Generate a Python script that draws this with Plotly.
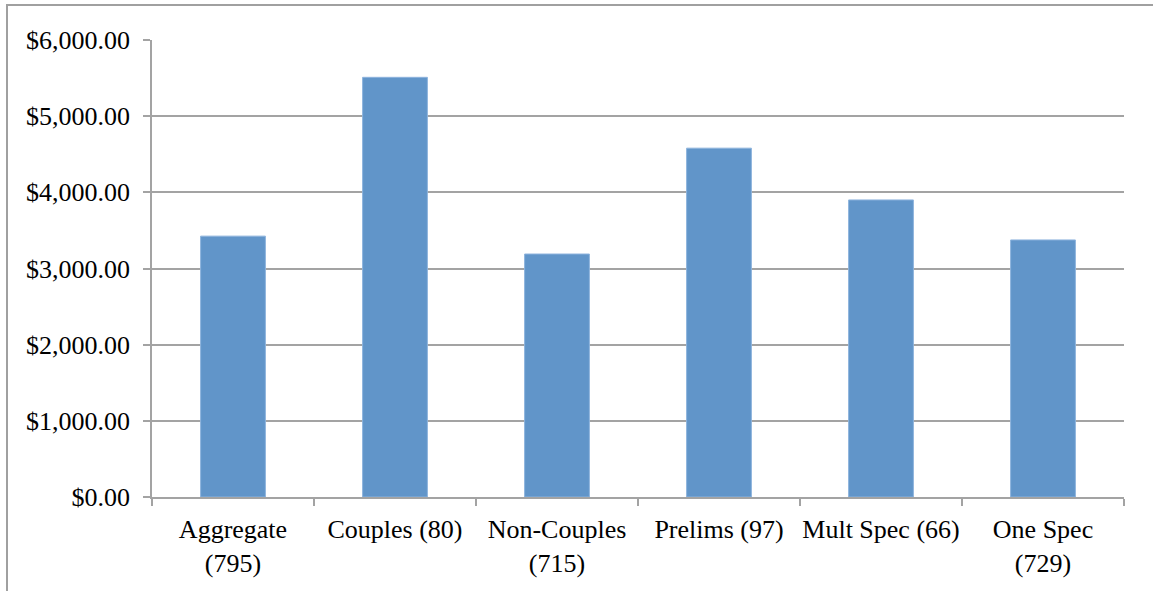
import plotly.graph_objects as go

categories = ["Aggregate<br>(795)", "Couples (80)", "Non-Couples<br>(715)",
              "Prelims (97)", "Mult Spec (66)", "One Spec<br>(729)"]
values = [3425, 5510, 3190, 4580, 3900, 3375]
y_ticks = [0, 1000, 2000, 3000, 4000, 5000, 6000]
y_ticklabels = [f"${v:,.2f}" for v in y_ticks]

W, H = 1153, 591
ml, mr, mt, mb = 152, 29, 40, 94
pw, ph = W - ml - mr, H - mt - mb

fig = go.Figure(go.Bar(
    x=categories, y=values,
    marker=dict(color="#6195C9", line=dict(color="#8DB3DD", width=1)),
))

fam = "Liberation Serif, Times New Roman, serif"
xfont = dict(family=fam, size=26, color="#000000")
yfont = dict(family=fam, size=26, color="#000000")
grey = "#A3A3A3"

fig.update_layout(
    width=W, height=H,
    margin=dict(l=ml, r=mr, t=mt, b=mb, autoexpand=False),
    paper_bgcolor="white", plot_bgcolor="white",
    bargap=0.6, showlegend=False,
    font=xfont,
    xaxis=dict(
        type="category", tickson="boundaries", ticks="outside", ticklen=7,
        tickcolor=grey, tickwidth=1.5, showline=True, linecolor=grey, linewidth=1.5,
        showgrid=False, tickfont=xfont, ticklabelstandoff=8, tickangle=0,
        automargin=False,
    ),
    yaxis=dict(
        range=[0, 6000], tickvals=y_ticks, ticktext=y_ticklabels,
        ticks="outside", ticklen=7, tickcolor=grey, tickwidth=1.5,
        showline=True, linecolor=grey, linewidth=1.5,
        showgrid=True, gridcolor=grey, gridwidth=1.5, zeroline=False,
        tickfont=yfont, ticklabelstandoff=8, automargin=False,
    ),
)

# outer chart border (left and top visible; right/bottom cropped)
x0 = (7 - ml) / pw
y1 = (H - mb - 5) / ph
fig.add_shape(type="rect", xref="paper", yref="paper",
              x0=x0, x1=(W + 20 - ml) / pw, y0=(H - mb - (H + 20)) / ph, y1=y1,
              line=dict(color="#A0A0A0", width=2), fillcolor="rgba(0,0,0,0)",
              layer="below")

fig.write_html("out.html", config={"displayModeBar": False},
               post_script="document.body.style.margin='0';document.body.style.padding='0';document.body.style.overflow='hidden';")
